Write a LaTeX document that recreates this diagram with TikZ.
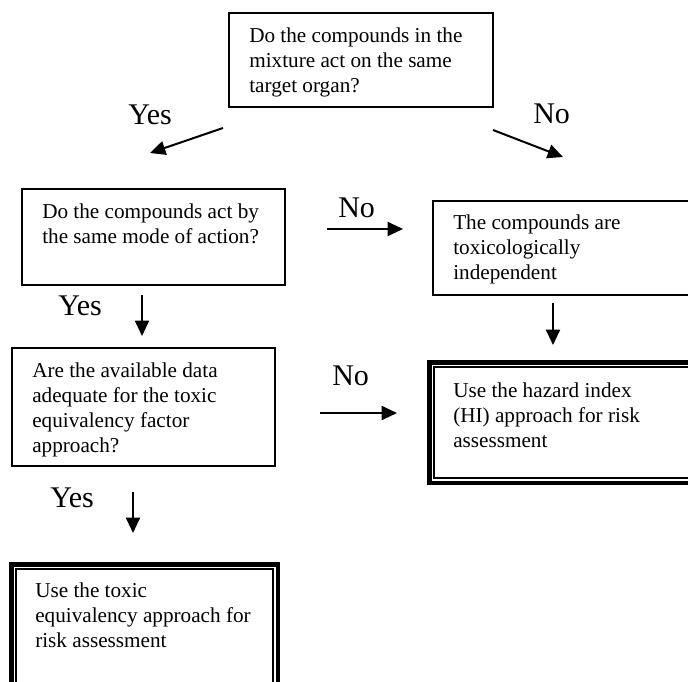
\documentclass[tikz,border=0pt]{standalone}
\usepackage{fontspec}
\setmainfont{Liberation Serif}
\usetikzlibrary{arrows.meta}
\begin{document}
\begin{tikzpicture}[x=0.75pt,y=-0.75pt,
  boxthin/.style={draw, line width=1.5pt, inner sep=0pt, outer sep=0pt, anchor=north west},
  boxthick/.style={draw, line width=3.4pt, inner sep=0pt, outer sep=0pt, anchor=north west},
  innerline/.style={line width=1.1pt},
  txt/.style={anchor=base west, inner sep=0pt, font=\fontsize{15.9}{18.75}\selectfont},
  lbl/.style={anchor=base west, inner sep=0pt, font=\fontsize{22.5}{26}\selectfont},
  arr/.style={line width=1.5pt, -{Triangle[length=11.5pt,width=10.5pt]}}]
\useasboundingbox (0,0) rectangle (688,681);
\clip (0,0) rectangle (688,681);
% boxes
\node[boxthin, minimum width=198pt, minimum height=70.5pt] (b1) at (229,13) {};
\node[boxthin, minimum width=197.25pt, minimum height=72pt] (b2) at (22,189) {};
\node[boxthin, minimum width=197.25pt, minimum height=88.5pt] (b3) at (12,348) {};
\node[boxthin, minimum width=225pt, minimum height=70.5pt] (b4) at (433,201) {};
\node[boxthick, minimum width=225pt, minimum height=90.4pt] (b5) at (429.25,362.25) {};
\draw[innerline] ([shift={(4.75,4.75)}]b5.north west) rectangle ([shift={(-4.75,-4.75)}]b5.south east);
\node[boxthick, minimum width=199.9pt, minimum height=112.5pt] (b6) at (11.25,564.25) {};
\draw[innerline] ([shift={(4.75,4.75)}]b6.north west) rectangle ([shift={(-4.75,-4.75)}]b6.south east);
% texts
\node[txt] (t1) at (249,43) {\parbox[t]{250pt}{Do the compounds in the\\mixture act on the same\\target organ?}};
\node[txt] (t2) at (42,218) {\parbox[t]{250pt}{Do the compounds act by\\the same mode of action?}};
\node[txt] (t3) at (32,377) {\parbox[t]{250pt}{Are the available data\\adequate for the toxic\\equivalency factor\\approach?}};
\node[txt] (t4) at (453,229) {\parbox[t]{250pt}{The compounds are\\toxicologically\\independent}};
\node[txt] (t5) at (453,397) {\parbox[t]{250pt}{Use the hazard index\\(HI) approach for risk\\assessment}};
\node[txt] (t6) at (35,597) {\parbox[t]{250pt}{Use the toxic\\equivalency approach for\\risk assessment}};
% labels
\node[lbl] (l1) at (128,125) {Yes};
\node[lbl] (l2) at (533,123) {No};
\node[lbl] (l3) at (338,217) {No};
\node[lbl] (l4) at (58,315) {Yes};
\node[lbl] (l5) at (332,385) {No};
\node[lbl] (l6) at (50,507) {Yes};
% arrow end points
\coordinate (a1s) at (223,128); \coordinate (a1e) at (150,153);
\coordinate (a2s) at (493,130); \coordinate (a2e) at (563,157);
\coordinate (a3s) at (327,229); \coordinate (a3e) at (403,229);
\coordinate (a4s) at (142,295); \coordinate (a4e) at (142,336);
\coordinate (a5s) at (553,303); \coordinate (a5e) at (553,345);
\coordinate (a6s) at (320,413); \coordinate (a6e) at (397,413);
\coordinate (a7s) at (133,492); \coordinate (a7e) at (133,533);
\draw[arr] (a1s) -- (a1e);
\draw[arr] (a2s) -- (a2e);
\draw[arr] (a3s) -- (a3e);
\draw[arr] (a4s) -- (a4e);
\draw[arr] (a5s) -- (a5e);
\draw[arr] (a6s) -- (a6e);
\draw[arr] (a7s) -- (a7e);
\end{tikzpicture}
\end{document}
